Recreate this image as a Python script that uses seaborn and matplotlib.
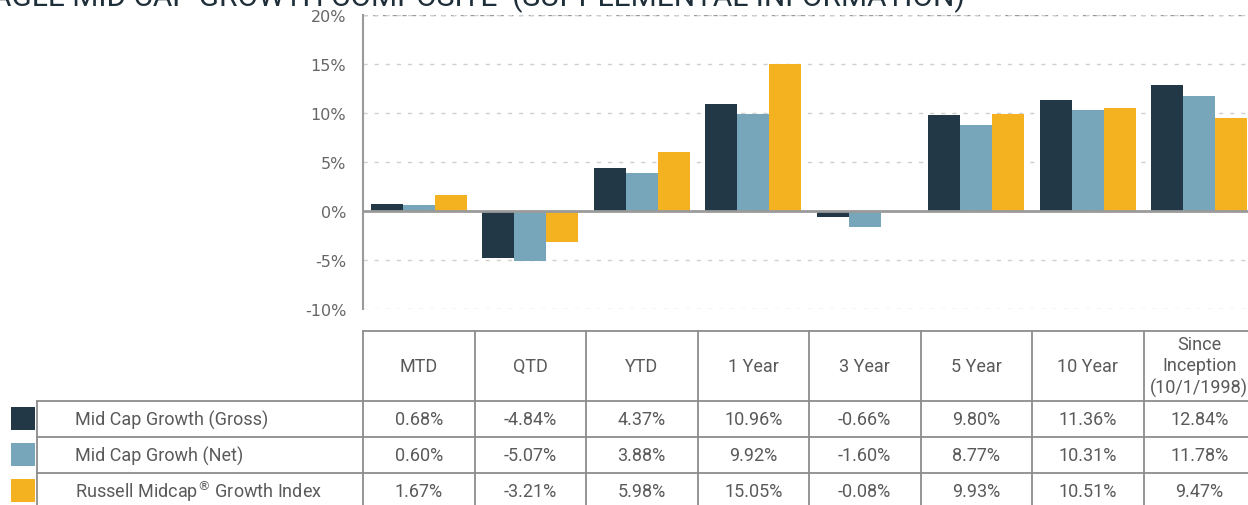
import matplotlib.pyplot as plt
import matplotlib.transforms as mtransforms
import numpy as np
import pandas as pd
import seaborn as sns

# Data
periods = ['MTD', 'QTD', 'YTD', '1 Year', '3 Year', '5 Year', '10 Year', 'Since\nInception\n(10/1/1998)']
series = ['Mid Cap Growth (Gross)', 'Mid Cap Growh (Net)', 'Russell Midcap\u00ae Growth Index']
row_labels = ['Mid Cap Growth (Gross)', 'Mid Cap Growh (Net)', 'Russell Midcap$^{\u00ae}$ Growth Index']
gross = [0.68, -4.84, 4.37, 10.96, -0.66, 9.80, 11.36, 12.84]
net = [0.60, -5.07, 3.88, 9.92, -1.60, 8.77, 10.31, 11.78]
index = [1.67, -3.21, 5.98, 15.05, -0.08, 9.93, 10.51, 9.47]
yticks = [-10, -5, 0, 5, 10, 15, 20]
title = 'EAGLE MID CAP GROWTH COMPOSITE  (SUPPLEMENTAL INFORMATION)'

colors = ['#223846', '#77a6ba', '#f4b120']
txt_color = '#5a5a5a'
line_color = '#8c8c8c'

W, H = 1248, 506

sns.set_style('white')
plt.rcParams['font.family'] = ['Roboto', 'DejaVu Sans']

df = pd.DataFrame({
    'period': periods * 3,
    'series': np.repeat(series, len(periods)),
    'value': gross + net + index,
})

fig = plt.figure(figsize=(W / 100, H / 100), dpi=100)
ax = fig.add_axes([363 / W, (H - 310) / H, 892 / W, 294 / H])

sns.barplot(data=df, x='period', y='value', hue='series', order=periods,
            hue_order=series, palette=colors, width=0.86, saturation=1,
            legend=False, linewidth=0, ax=ax)

ax.set_xlim(-0.5, len(periods) - 0.5)
ax.set_ylim(-10, 20)
ax.set_xticks([])
ax.set_xlabel('')
ax.set_ylabel('')
ax.set_yticks(yticks)
ax.set_yticklabels(['{0}%'.format(v) for v in yticks], family='DejaVu Sans',
                   fontsize=11.5, color='#666666')
ax.tick_params(axis='y', length=0, pad=12)
ax.set_axisbelow(True)
ax.yaxis.grid(True, linestyle=(0, (3, 5)), color='#cfcfcf', lw=1)
ax.axhline(0, color='#9a9a9a', lw=2, zorder=3)
for s in ['top', 'right', 'bottom']:
    ax.spines[s].set_visible(False)
ax.spines['left'].set_color('#9a9a9a')
ax.spines['left'].set_linewidth(1.5)
ax.axhline(20, color='#9a9a9a', lw=1, linestyle=(0, (3, 4)), zorder=0)

# Title (clipped at the top of the figure)
fig.text(965 / W, 1 - 6 / H, title, ha='right', va='baseline', fontsize=21.5,
         color='#1f2f3a')

# Table: x follows the bar axis, y in figure pixels
tax = fig.add_axes([0, 0, 1, 1])
tax.set_xlim(0, W)
tax.set_ylim(H, 0)
tax.axis('off')
tr = mtransforms.blended_transform_factory(ax.transData, tax.transData)

n = len(periods)
top, head_bot = 332, 402
row_h = 36
rows_bot = head_bot + row_h * 3
lw = 1.3

# horizontal lines
tax.plot([-0.5, n - 0.5], [top, top], color=line_color, lw=lw, transform=tr, clip_on=False)
for k in range(4):
    y = head_bot + row_h * k
    tax.plot([37, W + 10], [y, y], color=line_color, lw=lw, clip_on=False)
# vertical lines
for i in range(n + 1):
    tax.plot([i - 0.5, i - 0.5], [top, rows_bot], color=line_color, lw=lw,
             transform=tr, clip_on=False)
tax.plot([37, 37], [head_bot, rows_bot], color=line_color, lw=lw, clip_on=False)

# header text
for i, p in enumerate(periods):
    tax.text(i, (top + head_bot) / 2, p, ha='center', va='center', fontsize=13,
             color=txt_color, linespacing=1.25, transform=tr)

# rows
values = [gross, net, index]
for r, (name, vals) in enumerate(zip(row_labels, values)):
    yc = head_bot + row_h * r + row_h / 2
    tax.add_patch(plt.Rectangle((11, yc - 12), 24, 23, color=colors[r], lw=0))
    tax.text(75, yc, name, ha='left', va='center', fontsize=13, color=txt_color)
    for i, v in enumerate(vals):
        tax.text(i, yc, '{0:.2f}%'.format(v), ha='center', va='center',
                 fontsize=13, color=txt_color, transform=tr)

plt.savefig('out.png', dpi=100)
